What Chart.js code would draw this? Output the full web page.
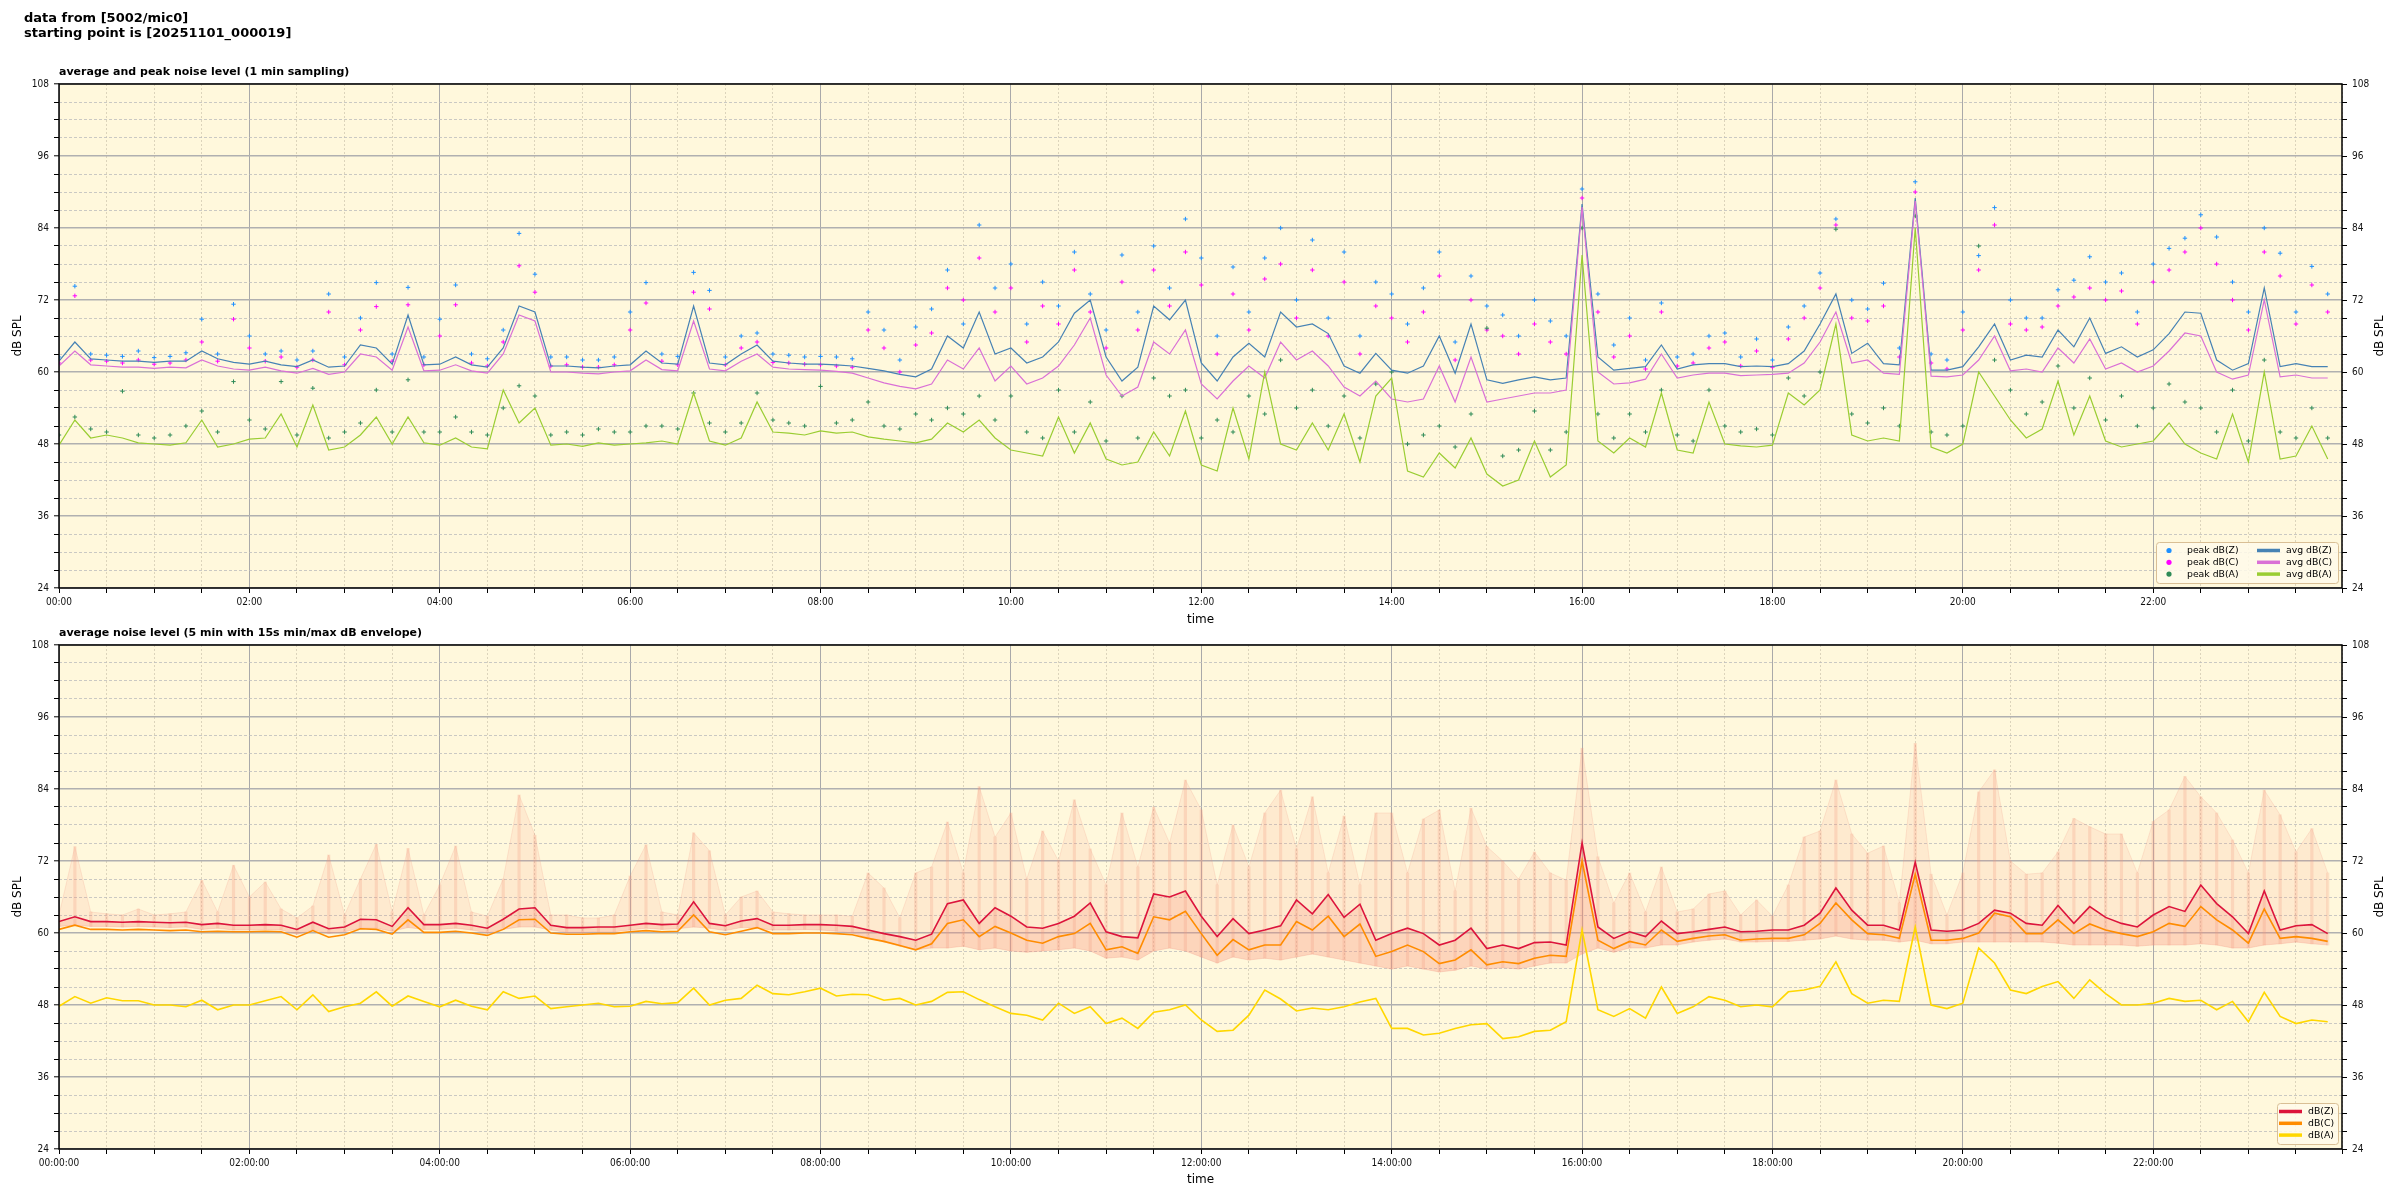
<!DOCTYPE html>
<html lang="en">
<head>
<meta charset="UTF-8">
<title>noise level 5002/mic0</title>
<script src="https://cdn.jsdelivr.net/npm/chart.js"></script>
<style>
  html, body { margin: 0; padding: 0; background: #fff; }
  .page { position: relative; width: 2400px; height: 1200px; overflow: hidden; }
  .hdr { position: absolute; left: 24px; top: 10px; font: bold 13px "DejaVu Sans", sans-serif; line-height: 15px; color: #000; z-index: 2; }
  .sub { position: absolute; left: 59px; font: bold 11px "DejaVu Sans", sans-serif; line-height: 13px; color: #000; z-index: 2; white-space: nowrap; }
  canvas { position: absolute; left: 0; }
</style>
</head>
<body>
<div class="page">
  <div class="hdr">data from [5002/mic0]<br>starting point is [20251101_000019]</div>
  <div class="sub" style="top:65px">average and peak noise level (1 min sampling)</div>
  <div class="sub" style="top:626px">average noise level (5 min with 15s min/max dB envelope)</div>
  <canvas id="top" width="2400" height="640" style="top:0"></canvas>
  <canvas id="bottom" width="2400" height="580" style="top:620px"></canvas>
</div>
<script>
// one value every 10 minutes, 00:00 .. 23:50 (rows = one hour)
const SLOT_MIN = 10;
const hourLabels = ['00:00','02:00','04:00','06:00','08:00','10:00','12:00','14:00','16:00','18:00','20:00','22:00'];
const hourLabelsLong = ['00:00:00','02:00:00','04:00:00','06:00:00','08:00:00','10:00:00','12:00:00','14:00:00','16:00:00','18:00:00','20:00:00','22:00:00'];

// top panel: 1 min averages
const avgZ = [
  61.8,65.0,62.2,62.0,61.8,61.8, 61.6,61.8,61.8,63.5,62.2,61.6, 61.3,61.8,61.2,60.9,62.0,60.8,
  61.0,64.5,64.0,61.3,69.5,61.2, 61.3,62.5,61.2,60.8,64.0,71.0, 70.0,61.0,61.0,60.8,60.7,61.0,
  61.2,63.5,61.5,61.3,71.0,61.5, 61.2,63.0,64.5,61.8,61.5,61.3, 61.3,61.2,61.0,60.6,60.2,59.6,
  59.2,60.5,66.0,64.0,70.0,63.0, 64.0,61.5,62.5,65.0,69.8,72.0, 62.5,58.5,60.8,71.0,68.7,72.0,
  61.5,58.5,62.5,64.8,62.5,70.0, 67.5,68.0,66.4,61.0,59.8,63.1, 60.3,59.8,61.0,66.0,59.8,68.0,
  58.7,58.1,58.7,59.2,58.7,59.0, 88.0,62.5,60.3,60.6,60.9,64.5, 60.5,61.2,61.4,61.4,60.9,61.0,
  60.9,61.4,63.5,68.0,73.0,63.1, 64.8,61.4,61.2,89.0,60.3,60.3, 60.9,64.2,68.0,62.0,62.8,62.5,
  67.0,64.2,69.0,63.1,64.2,62.5, 63.7,66.4,70.0,69.8,62.0,60.3, 61.4,74.0,60.9,61.4,60.9,60.9
];
const avgC = [
  61.0,63.5,61.2,61.0,60.8,60.8, 60.6,60.8,60.7,62.0,61.0,60.5, 60.3,60.8,60.2,59.8,60.6,59.6,
  60.0,63.0,62.5,60.3,67.5,60.2, 60.3,61.2,60.2,59.8,63.0,69.5, 68.5,60.0,60.0,59.8,59.7,60.0,
  60.2,62.0,60.4,60.2,68.5,60.5, 60.2,61.8,63.0,60.8,60.5,60.4, 60.3,60.1,59.8,59.0,58.2,57.6,
  57.2,58.0,62.0,60.5,64.0,58.5, 61.0,58.0,59.0,61.0,64.5,69.0, 59.5,56.0,57.5,65.0,63.0,67.0,
  58.0,55.5,58.5,61.0,59.0,65.0, 62.0,63.5,61.0,57.5,56.0,58.5, 55.5,55.0,55.5,61.0,55.0,62.5,
  55.0,55.5,56.0,56.5,56.5,57.0, 87.5,60.0,58.0,58.2,58.8,63.0, 59.0,59.5,59.8,59.8,59.4,59.5,
  59.6,59.8,61.5,65.0,70.0,61.5, 62.0,59.8,59.6,88.5,59.3,59.2, 59.5,62.0,66.0,60.2,60.5,60.0,
  64.0,61.5,65.5,60.5,61.5,60.0, 61.0,63.5,66.5,66.0,60.0,58.8, 59.5,72.0,59.2,59.5,59.0,59.0
];
const avgA = [
  47.8,52.0,49.0,49.5,49.0,48.2, 48.0,47.8,48.2,52.0,47.5,48.0, 48.8,49.0,53.0,47.5,54.5,47.0,
  47.5,49.5,52.5,48.0,52.5,48.2, 47.8,49.0,47.5,47.2,57.0,51.5, 54.0,47.8,48.0,47.6,48.2,47.8,
  48.0,48.2,48.5,48.0,56.5,48.5, 47.8,49.0,55.0,50.0,49.8,49.5, 50.2,49.8,50.0,49.2,48.8,48.5,
  48.2,48.8,51.5,50.0,52.0,49.0, 47.0,46.5,46.0,52.5,46.5,51.5, 45.5,44.5,45.0,50.0,46.0,53.5,
  44.5,43.5,54.0,45.5,60.0,48.0, 47.0,51.5,47.0,53.0,45.0,56.0, 59.0,43.5,42.5,46.5,44.0,49.0,
  43.0,41.0,42.0,48.5,42.5,44.5, 79.5,48.5,46.5,49.0,47.5,56.5, 47.0,46.5,55.0,48.0,47.7,47.5,
  47.8,56.5,54.5,57.0,68.0,49.5, 48.5,49.0,48.5,84.0,47.5,46.5, 48.0,60.0,56.0,52.0,49.0,50.5,
  58.5,49.5,56.0,48.5,47.5,48.0, 48.5,51.5,48.0,46.5,45.5,53.0, 45.0,60.0,45.5,46.0,51.0,45.5
];
// top panel: 1 min peaks
const peakZ = [
  62.5,74.3,63.0,62.8,62.6,63.5, 62.4,62.6,63.2,68.8,63.0,71.3, 66.0,63.0,63.5,62.0,63.5,73.0,
  62.5,69.0,74.9,63.0,74.1,62.5, 68.8,74.5,63.0,62.2,67.0,83.1, 76.3,62.5,62.5,62.0,62.0,62.5,
  70.0,74.9,63.0,62.6,76.6,73.6, 62.5,66.0,66.5,63.0,62.8,62.5, 62.6,62.5,62.2,70.0,67.0,62.0,
  67.5,70.5,77.0,68.0,84.5,74.0, 78.0,68.0,75.0,71.0,80.0,73.0, 67.0,79.5,70.0,81.0,74.0,85.5,
  79.0,66.0,77.5,70.0,79.0,84.0, 72.0,82.0,69.0,80.0,66.0,75.0, 73.0,68.0,74.0,80.0,65.0,76.0,
  71.0,69.5,66.0,72.0,68.5,66.0, 90.5,73.0,64.5,69.0,62.0,71.5, 62.5,63.0,66.0,66.5,62.5,65.5,
  62.0,67.5,71.0,76.5,85.5,72.0, 70.5,74.8,64.0,91.7,63.0,62.0, 70.0,79.4,87.4,72.0,69.0,69.0,
  73.7,75.3,79.2,75.0,76.5,70.0, 78.0,80.6,82.3,86.2,82.5,75.0, 70.0,84.0,79.8,70.0,77.6,73.0
];
const peakC = [
  61.5,72.7,62.0,61.8,61.5,62.0, 61.3,61.5,62.0,65.0,61.8,68.8, 64.0,61.8,62.5,60.8,62.0,70.0,
  61.2,67.0,70.9,61.8,71.2,61.2, 66.0,71.2,61.5,61.0,65.0,77.7, 73.3,61.0,61.2,60.8,60.8,61.2,
  67.0,71.5,61.8,61.2,73.3,70.5, 61.2,64.0,65.0,61.6,61.5,61.3, 61.2,61.0,60.8,67.0,64.0,60.0,
  64.5,66.5,74.0,72.0,79.0,70.0, 74.0,65.0,71.0,68.0,77.0,70.0, 64.0,75.0,67.0,77.0,71.0,80.0,
  74.5,63.0,73.0,67.0,75.5,78.0, 69.0,77.0,66.0,75.0,63.0,71.0, 69.0,65.0,70.0,76.0,62.0,72.0,
  67.0,66.0,63.0,68.0,65.0,63.0, 89.0,70.0,62.5,66.0,60.5,70.0, 61.0,61.5,64.0,65.0,61.0,63.5,
  60.8,65.5,69.0,74.0,84.5,69.0, 68.5,71.0,62.5,90.0,61.5,60.5, 67.0,77.0,84.5,68.0,67.0,67.5,
  71.0,72.5,74.0,72.0,73.5,68.0, 75.0,77.0,80.0,84.0,78.0,72.0, 67.0,80.0,76.0,68.0,74.5,70.0
];
const peakA = [
  49.5,52.5,50.5,50.0,56.8,49.5, 49.0,49.5,51.0,53.5,50.0,58.4, 52.0,50.5,58.4,49.5,57.3,49.0,
  50.0,51.5,57.0,50.0,58.7,50.0, 50.0,52.5,50.0,49.5,54.0,57.7, 56.0,49.5,50.0,49.5,50.5,50.0,
  50.0,51.0,51.0,50.5,56.5,51.5, 50.0,51.5,56.5,52.0,51.5,51.0, 57.6,51.5,52.0,55.0,51.0,50.5,
  53.0,52.0,54.0,53.0,56.0,52.0, 56.0,50.0,49.0,57.0,50.0,55.0, 48.5,56.0,49.0,59.0,56.0,57.0,
  49.0,52.0,50.0,56.0,53.0,62.0, 54.0,57.0,51.0,56.0,49.0,58.0, 60.0,48.0,49.5,51.0,47.5,53.0,
  67.3,46.0,47.0,53.5,47.0,50.0, 84.0,53.0,49.0,53.0,50.0,57.0, 49.5,48.5,57.0,51.0,50.0,50.5,
  49.5,59.0,56.0,60.0,83.8,53.0, 51.5,54.0,51.0,86.0,50.0,49.5, 51.0,81.0,62.0,57.0,53.0,55.0,
  61.0,54.0,59.0,52.0,56.0,51.0, 54.0,58.0,55.0,54.0,50.0,57.0, 48.5,62.0,50.0,49.0,54.0,49.0
];

// bottom panel: 5 min averages
const lvlZ = [
  61.9,62.7,61.9,61.9,61.8,61.9, 61.8,61.7,61.8,61.4,61.6,61.3, 61.3,61.4,61.3,60.6,61.8,60.7,
  61.0,62.3,62.2,61.1,64.2,61.4, 61.4,61.6,61.3,60.8,62.3,64.0, 64.2,61.3,60.9,60.9,61.0,61.0,
  61.3,61.6,61.4,61.5,65.2,61.6, 61.2,62.0,62.4,61.3,61.3,61.4, 61.4,61.3,61.1,60.5,59.9,59.4,
  58.8,59.8,64.9,65.5,61.6,64.2, 62.8,61.0,60.8,61.6,62.8,65.0, 60.2,59.4,59.2,66.5,66.0,67.0,
  62.8,59.4,62.4,59.9,60.5,61.2, 65.5,63.2,66.4,62.6,64.8,58.8, 59.9,60.8,59.9,58.0,58.8,60.8,
  57.4,58.0,57.4,58.4,58.5,58.0, 75.0,61.0,59.1,60.2,59.4,62.0, 59.9,60.2,60.6,61.0,60.2,60.3,
  60.5,60.5,61.3,63.3,67.5,63.8, 61.3,61.3,60.5,71.8,60.5,60.3, 60.5,61.6,63.8,63.3,61.6,61.3,
  64.6,61.6,64.4,62.6,61.6,61.0, 63.0,64.4,63.6,68.0,64.9,62.7, 59.9,67.0,60.5,61.2,61.4,59.9
];
const lvlC = [
  60.6,61.3,60.6,60.6,60.5,60.6, 60.5,60.4,60.5,60.2,60.3,60.2, 60.2,60.3,60.2,59.3,60.4,59.3,
  59.7,60.7,60.6,59.8,62.2,60.1, 60.1,60.3,60.0,59.6,60.6,62.2, 62.3,60.0,59.8,59.8,59.9,59.9,
  60.2,60.4,60.2,60.3,63.0,60.2, 59.7,60.3,60.9,59.9,59.9,60.0, 60.0,59.9,59.7,59.1,58.6,57.9,
  57.2,58.2,61.6,62.2,59.4,61.1, 60.0,58.8,58.3,59.4,59.9,61.6, 57.2,57.7,56.6,62.7,62.2,63.6,
  59.9,56.3,58.9,57.2,58.0,58.0, 61.9,60.5,62.8,59.4,61.5,56.1, 56.9,58.0,56.9,54.9,55.5,57.2,
  54.7,55.2,54.9,55.8,56.3,56.1, 72.0,58.8,57.4,58.6,58.0,60.5, 58.6,59.1,59.5,59.7,58.8,59.0,
  59.1,59.1,59.7,61.6,65.0,62.2, 59.9,59.7,59.1,69.8,58.8,58.8, 59.1,60.0,63.3,62.7,59.9,59.9,
  62.2,59.9,61.5,60.5,59.9,59.4, 60.2,61.6,61.1,64.4,62.2,60.5, 58.3,64.0,59.1,59.4,59.1,58.6
];
const lvlA = [
  47.8,49.4,48.3,49.2,48.7,48.7, 48.0,48.0,47.7,48.8,47.2,48.0, 48.0,48.7,49.4,47.2,49.7,46.9,
  47.7,48.3,50.2,47.8,49.5,48.6, 47.7,48.8,47.8,47.2,50.2,49.1, 49.5,47.4,47.7,48.0,48.3,47.7,
  47.8,48.6,48.2,48.4,50.8,48.0, 48.8,49.1,51.3,49.9,49.7,50.2, 50.8,49.5,49.8,49.7,48.8,49.1,
  48.0,48.6,50.1,50.2,48.9,47.7, 46.6,46.3,45.5,48.3,46.6,47.7, 44.9,45.8,44.1,46.8,47.2,48.0,
  45.5,43.6,43.8,46.3,50.5,49.0, 47.0,47.5,47.2,47.7,48.5,49.1, 44.1,44.1,43.0,43.3,44.1,44.7,
  44.9,42.4,42.7,43.6,43.8,45.2, 60.5,47.2,46.1,47.4,45.8,51.0, 46.6,47.7,49.4,48.8,47.7,48.0,
  47.7,50.2,50.5,51.1,55.2,49.9, 48.3,48.8,48.6,61.0,48.0,47.4, 48.3,57.5,55.0,50.5,49.9,51.1,
  51.9,49.1,52.2,49.9,48.0,48.0, 48.3,49.1,48.6,48.8,47.2,48.6, 45.2,50.1,46.1,44.9,45.5,45.2
];
// bottom panel: 15 s min/max envelope
const envMin = [
  61.1,61.3,61.1,61.1,61.0,61.1, 61.0,60.9,61.0,60.6,60.8,60.5, 60.5,60.6,60.5,59.8,60.5,59.9,
  60.2,60.8,60.8,60.3,60.9,60.6, 60.6,60.8,60.5,60.0,60.6,61.0, 61.0,60.5,60.1,60.1,60.2,60.2,
  60.5,60.8,60.6,60.7,61.0,60.8, 60.4,60.9,60.8,60.5,60.5,60.6, 60.5,60.3,60.0,59.2,58.5,57.8,
  57.2,57.5,57.5,57.8,57.2,57.5, 57.0,56.8,57.0,57.2,57.5,57.0, 55.8,56.0,55.5,57.0,57.5,57.0,
  56.0,55.0,56.0,55.5,55.8,55.5, 56.0,56.5,56.0,55.5,55.0,54.5, 54.0,54.5,54.0,53.5,53.8,54.5,
  54.0,54.2,54.0,54.5,55.0,55.0, 56.5,57.5,56.8,57.5,57.5,58.0, 58.0,58.5,58.8,59.0,58.5,58.5,
  58.6,58.6,58.8,59.0,59.5,59.0, 58.8,58.8,58.5,58.8,58.2,58.2, 58.5,58.5,58.5,58.5,58.5,58.5,
  58.3,58.0,58.0,58.0,58.0,57.8, 58.0,58.0,58.0,58.2,58.0,57.5, 57.5,58.0,58.2,58.5,58.2,58.0
];
const envMax = [
  63.0,74.4,63.5,63.2,63.0,64.0, 63.0,63.2,63.5,68.8,63.5,71.3, 66.0,68.5,64.0,62.5,64.5,73.0,
  63.0,69.0,74.8,63.5,74.1,63.0, 68.0,74.5,63.5,62.8,69.0,83.0, 76.3,63.0,63.0,62.5,62.5,63.0,
  69.5,74.7,63.5,63.0,76.7,73.7, 63.0,66.0,67.0,63.5,63.2,63.0, 63.0,63.0,62.8,70.0,67.5,62.5,
  70.0,71.0,78.5,70.0,84.4,76.0, 80.0,69.0,77.0,72.0,82.2,74.0, 68.0,80.0,71.0,81.0,75.0,85.5,
  80.5,68.0,78.0,71.0,80.0,83.8, 74.0,82.7,70.0,79.5,68.0,80.0, 80.0,70.0,79.0,80.5,67.0,80.8,
  74.4,72.0,69.0,73.5,70.0,68.8, 90.8,72.7,65.0,70.0,63.5,71.0, 63.5,64.0,66.5,67.0,63.0,65.5,
  62.8,68.0,76.0,77.0,85.5,76.5, 73.3,74.5,65.0,91.6,69.8,63.0, 70.0,83.5,87.2,72.0,69.8,70.0,
  73.5,79.1,77.7,76.5,76.5,70.0, 78.6,80.5,86.1,82.7,80.0,75.5, 70.0,83.8,79.7,73.5,77.4,70.0
];

const PLOT_BG = '#fff8dc';
const TICK_FONT = { family: "'Liberation Sans Narrow', 'DejaVu Sans Condensed', sans-serif", size: 10 };
const LABEL_FONT = { family: "'DejaVu Sans', sans-serif", size: 12 };

const pts = arr => arr.map((v, i) => ({ x: i * SLOT_MIN, y: v }));
const majorX = c => c.tick && c.tick.value % 120 === 0;
const majorY = c => c.tick && c.tick.value % 12 === 0;

function scales(labels, axisH) {
  const yTicks = { stepSize: 3, autoSkip: false, padding: 5, color: '#111', font: TICK_FONT,
                   callback: v => v % 12 === 0 ? String(v) : '' };
  return {
    x: {
      type: 'linear', min: 0, max: 1439, bounds: 'data', offset: false,
      afterFit: s => { s.height = axisH; },
      ticks: { stepSize: 30, includeBounds: false, autoSkip: false, maxRotation: 0, padding: 3,
               color: '#111', font: TICK_FONT,
               callback: v => v % 120 === 0 ? labels[v / 120] : '' },
      grid: { offset: false, color: c => majorX(c) ? '#a9a9a9' : '#d3cbb3', lineWidth: c => majorX(c) ? 1 : 0.8,
              tickColor: '#000', tickLength: 5, tickWidth: 1 },
      border: { display: false, dash: c => majorX(c) ? [] : [2, 2] },
      title: { display: true, text: 'time', font: LABEL_FONT, color: '#000', padding: { top: 0, bottom: 13 } }
    },
    y: {
      type: 'linear', position: 'left', min: 24, max: 108, bounds: 'data',
      afterFit: s => { s.width = 59; },
      ticks: yTicks,
      grid: { color: c => majorY(c) ? '#b0b0b0' : '#bdbdbd', lineWidth: c => majorY(c) ? 1.6 : 0.8,
              tickColor: '#000', tickLength: 5, tickWidth: 1 },
      border: { display: false, dash: c => majorY(c) ? [] : [3, 2] },
      title: { display: true, text: 'dB SPL', font: LABEL_FONT, color: '#000', padding: { top: 11, bottom: 0 } }
    },
    yR: {
      type: 'linear', position: 'right', min: 24, max: 108, bounds: 'data',
      afterFit: s => { s.width = 58; },
      ticks: yTicks,
      grid: { drawOnChartArea: false, tickColor: '#000', tickLength: 5, tickWidth: 1 },
      border: { display: false }
    }
  };
}

const decor = {
  id: 'decor',
  beforeDraw(chart) {
    const { ctx, chartArea: a } = chart;
    ctx.save();
    ctx.fillStyle = PLOT_BG;
    ctx.fillRect(a.left, a.top, a.width, a.height);
    ctx.restore();
  },
  afterDraw(chart, args, o) {
    const { ctx, chartArea: a } = chart;
    ctx.save();
    ctx.strokeStyle = '#000';
    ctx.lineWidth = 1.5;
    ctx.strokeRect(a.left, a.top, a.width, a.height);
    // right axis label, reading upwards like the left one
    ctx.fillStyle = '#000';
    ctx.font = "12px 'DejaVu Sans', sans-serif";
    ctx.translate(2380, (a.top + a.bottom) / 2);
    ctx.rotate(-Math.PI / 2);
    ctx.textAlign = 'center';
    ctx.textBaseline = 'middle';
    ctx.fillText('dB SPL', 0, 0);
    ctx.restore();

    // legend box in the lower right corner
    const bx = a.right - 4 - o.w, by = a.bottom - 5 - o.h;
    ctx.save();
    ctx.beginPath();
    ctx.roundRect(bx + 0.5, by + 0.5, o.w, o.h, 3);
    ctx.fillStyle = 'rgba(255,250,234,0.85)';
    ctx.fill();
    ctx.strokeStyle = '#d9bf95';
    ctx.lineWidth = 1;
    ctx.stroke();
    ctx.font = "9.3px 'DejaVu Sans', sans-serif";
    ctx.textBaseline = 'middle';
    o.items.forEach(it => {
      const ds = chart.data.datasets[it.ds];
      const y = by + 8.5 + it.row * 11.8;
      const x0 = bx + it.x;
      if (it.dot) {
        ctx.fillStyle = ds.pointBorderColor;
        ctx.beginPath();
        ctx.arc(x0 + 6, y, 2.6, 0, Math.PI * 2);
        ctx.fill();
        ctx.fillStyle = '#000';
        ctx.fillText(ds.label, x0 + 24, y);
      } else {
        ctx.strokeStyle = ds.borderColor;
        ctx.lineWidth = 3.5;
        ctx.beginPath();
        ctx.moveTo(x0, y);
        ctx.lineTo(x0 + 23, y);
        ctx.stroke();
        ctx.fillStyle = '#000';
        ctx.fillText(ds.label, x0 + 29, y);
      }
    });
    ctx.restore();
  }
};

const line = (label, arr, color, width, order) => ({
  label, data: pts(arr), borderColor: color, backgroundColor: color, borderWidth: width,
  pointRadius: 0, fill: false, tension: 0, order
});
const peaks = (label, arr, color, order) => ({
  label, data: pts(arr), showLine: false, pointStyle: 'cross', pointRadius: 2.2,
  pointBorderWidth: 1, pointBorderColor: color, pointBackgroundColor: color, borderColor: color, order
});

const baseOptions = (labels, axisH, padTop, legend) => ({
  responsive: false, animation: false, devicePixelRatio: 1, events: [],
  parsing: false,
  layout: { padding: { top: padTop, left: 0, right: 0, bottom: 0 } },
  scales: scales(labels, axisH),
  plugins: { legend: { display: false }, tooltip: { enabled: false }, title: { display: false }, decor: legend }
});

new Chart(document.getElementById('top'), {
  type: 'line',
  data: {
    datasets: [
      line('avg dB(Z)', avgZ, 'steelblue', 1.2, 3),
      line('avg dB(C)', avgC, 'orchid', 1.2, 2),
      line('avg dB(A)', avgA, 'yellowgreen', 1.2, 1),
      peaks('peak dB(Z)', peakZ, 'dodgerblue', 12),
      peaks('peak dB(C)', peakC, 'magenta', 11),
      peaks('peak dB(A)', peakA, 'seagreen', 10)
    ]
  },
  options: baseOptions(hourLabels, 52, 84, {
    w: 182, h: 41,
    items: [
      { ds: 3, row: 0, x: 7, dot: true }, { ds: 4, row: 1, x: 7, dot: true }, { ds: 5, row: 2, x: 7, dot: true },
      { ds: 0, row: 0, x: 101 }, { ds: 1, row: 1, x: 101 }, { ds: 2, row: 2, x: 101 }
    ]
  }),
  plugins: [decor]
});

new Chart(document.getElementById('bottom'), {
  type: 'line',
  data: {
    datasets: [
      line('dB(Z)', lvlZ, 'crimson', 1.6, 3),
      line('dB(C)', lvlC, 'darkorange', 1.6, 2),
      line('dB(A)', lvlA, 'gold', 1.6, 1),
      // envelope: min line, band up to dB(Z)
      { label: 'env min', data: pts(envMin), borderColor: 'rgba(240,150,130,0.35)', borderWidth: 0.8,
        backgroundColor: 'rgba(250,140,120,0.22)', pointRadius: 0, fill: 0, tension: 0, order: 22 },
      // envelope: max line, light haze down to the min
      { label: 'env max', data: pts(envMax), borderColor: 'rgba(240,150,130,0.25)', borderWidth: 0.8,
        backgroundColor: 'rgba(250,140,120,0.13)', pointRadius: 0, fill: '-1', tension: 0, order: 21 },
      // short-lived maxima: thin spikes from min to max
      { type: 'bar', label: 'env spikes', parsing: true,
        data: envMax.map((v, i) => ({ x: i * SLOT_MIN, y: [envMin[i], v] })),
        backgroundColor: 'rgba(245,150,125,0.25)', borderWidth: 0, barThickness: 2.5, order: 20 }
    ]
  },
  options: baseOptions(hourLabelsLong, 51, 25, {
    w: 61, h: 41,
    items: [ { ds: 0, row: 0, x: 2 }, { ds: 1, row: 1, x: 2 }, { ds: 2, row: 2, x: 2 } ]
  }),
  plugins: [decor]
});
</script>
</body>
</html>
